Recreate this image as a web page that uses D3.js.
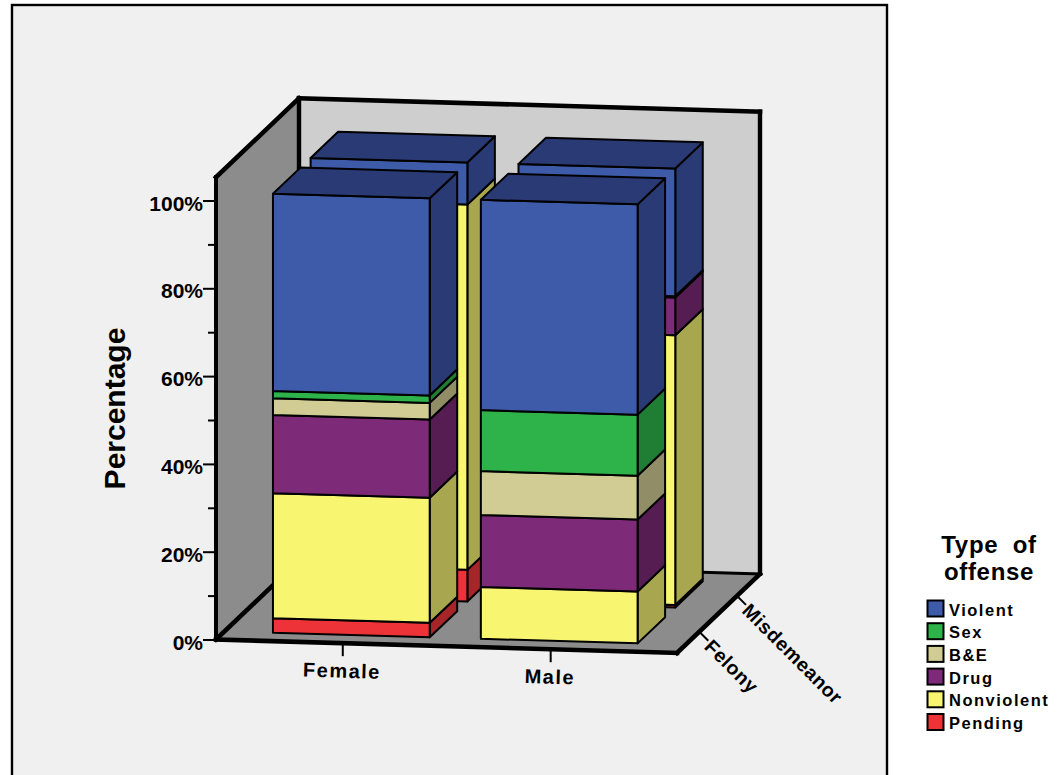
<!DOCTYPE html>
<html>
<head>
<meta charset="utf-8">
<title>Type of offense by gender and charge class</title>
<script src="https://cdnjs.cloudflare.com/ajax/libs/d3/7.8.5/d3.min.js"></script>
<style>
  html, body { margin: 0; padding: 0; background: #fff; }
  svg { display: block; }
  text { font-family: "Liberation Sans", Arial, sans-serif; font-weight: bold; fill: #000; }
</style>
</head>
<body>
<svg id="chart" width="1060" height="775"></svg>
<script>
// Categories and stacked percentages, bottom of each bar to the top
const genders = ["Female", "Male"];
const charges = ["Felony", "Misdemeanor"];
const offenses = ["Pending", "Nonviolent", "Drug", "B&E", "Sex", "Violent"];
const legendOrder = ["Violent", "Sex", "B&E", "Drug", "Nonviolent", "Pending"];

const femaleFelony      = [3.3, 28.5, 17.8, 3.8, 1.7, 44.9];
const femaleMisdemeanor = [7.2, 83.2, 0, 0, 0, 9.6];
const maleFelony        = [0, 11.8, 16.4, 10.0, 13.9, 47.9];
const maleMisdemeanor   = [0.6, 61.4, 8.6, 0.3, 0, 29.1];

const yTicksMajor = [0, 20, 40, 60, 80, 100];
const yTicksMinor = [10, 30, 50, 70, 90];

const frontColors = ["#EE3338", "#F8F570", "#7D2A78", "#D1CC94", "#2DB34A", "#3E5BAA"];
const sideColors  = ["#A62529", "#A8A64E", "#561D53", "#918E67", "#1F7D34", "#293A74"];
const offenseColor = d3.scaleOrdinal(offenses, frontColors);
const offenseSide  = d3.scaleOrdinal(offenses, sideColors);

const rows = [
  { gender: "Female", charge: "Misdemeanor", values: femaleMisdemeanor },
  { gender: "Male",   charge: "Misdemeanor", values: maleMisdemeanor },
  { gender: "Female", charge: "Felony",      values: femaleFelony },
  { gender: "Male",   charge: "Felony",      values: maleFelony }
].map(r => Object.assign({ gender: r.gender, charge: r.charge },
  Object.fromEntries(offenses.map((o, i) => [o, r.values[i]]))));

const series = d3.stack().keys(offenses)(rows);

// Oblique projection: u runs across the floor, w runs into the depth, v is the percentage
const origin = { x: 216, y: 639.5 };
const uVec = { x: 461, y: 13.4 };
const wVec = { x: 83, y: -79 };

const xBand = d3.scaleBand().domain(genders).range([0.105, 0.896]).paddingInner(0.246);
const zBand = d3.scaleBand().domain(charges).range([0.103, 0.888]).paddingInner(0.27);
const yScale = d3.scaleLinear().domain([0, 100]).range([origin.y, origin.y - 439]);
const wallTop = 105.3;

function project(u, v, w) {
  return [
    origin.x + uVec.x * u + wVec.x * w,
    yScale(v) + uVec.y * u + wVec.y * w
  ];
}
const outline = d3.line();
const poly = pts => outline(pts) + "Z";

const svg = d3.select("#chart");

// Outer panel
svg.append("rect").attr("x", 12).attr("y", 5).attr("width", 875).attr("height", 790)
  .attr("fill", "#F0F0F0").attr("stroke", "#000").attr("stroke-width", 2.4);

// Left wall, back wall and floor
const wallsG = svg.append("g");
wallsG.append("path")
  .attr("d", poly([project(0, 0, 0), project(0, wallTop, 0), project(0, wallTop, 1), project(0, 0, 1)]))
  .attr("fill", "#8C8C8C");
wallsG.append("path")
  .attr("d", poly([project(0, 0, 1), project(0, wallTop, 1), project(1, wallTop, 1), project(1, 0, 1)]))
  .attr("fill", "#CECECE");
wallsG.append("path")
  .attr("d", poly([project(0, 0, 0), project(0, 0, 1), project(1, 0, 1), project(1, 0, 0)]))
  .attr("fill", "#8C8C8C");

const heavy = (a, b, width) => wallsG.append("path")
  .attr("d", outline([a, b])).attr("fill", "none").attr("stroke", "#000")
  .attr("stroke-width", width).attr("stroke-linecap", "square");

heavy(project(0, 0, 1), project(1, 0, 1), 3);
heavy(project(0, 0, 1), project(0, wallTop, 1), 4.4);
heavy(project(0, 0, 0), project(0, 0, 1), 4.6);
heavy(project(0, wallTop, 0), project(0, wallTop, 1), 4.6);
heavy(project(0, wallTop, 1), project(1, wallTop, 1), 4.6);
heavy(project(1, wallTop, 1), project(1, 0, 1), 4.4);
heavy(project(0, 0, 0), project(0, wallTop, 0), 4);
heavy(project(0, 0, 0), project(1, 0, 0), 4.6);
heavy(project(1, 0, 0), project(1, 0, 1), 4.6);

// Percentage axis along the front edge of the left wall
const axisX = origin.x - 2;
svg.append("g").attr("transform", `translate(${axisX},0)`)
  .call(d3.axisLeft(yScale).tickValues(yTicksMinor).tickSize(6).tickFormat(""))
  .call(g => g.select(".domain").remove())
  .call(g => g.selectAll("line").attr("stroke", "#000").attr("stroke-width", 2));
svg.append("g").attr("transform", `translate(${axisX},0)`)
  .call(d3.axisLeft(yScale).tickValues(yTicksMajor).tickSize(11).tickPadding(0).tickFormat(d => d + "%"))
  .call(g => g.select(".domain").remove())
  .call(g => g.selectAll("line").attr("stroke", "#000").attr("stroke-width", 2))
  .call(g => g.selectAll("text").attr("font-size", 21).attr("dy", "0.46em")
    .attr("font-family", "Liberation Sans").attr("font-weight", "bold"));

// Stacked boxes, back row first so the front row covers it
const barsG = svg.append("g").attr("stroke", "#000").attr("stroke-width", 2).attr("stroke-linejoin", "round");
rows.forEach((row, rowIndex) => {
  const u0 = xBand(row.gender), u1 = u0 + xBand.bandwidth();
  const w0 = zBand(row.charge), w1 = w0 + zBand.bandwidth();
  const g = barsG.append("g").attr("class", `${row.gender}-${row.charge}`);
  series.forEach(s => {
    const [v0, v1] = s[rowIndex];
    if (v1 - v0 <= 0) return;
    g.append("path")
      .attr("d", poly([project(u1, v0, w0), project(u1, v1, w0), project(u1, v1, w1), project(u1, v0, w1)]))
      .attr("fill", offenseSide(s.key));
    g.append("path")
      .attr("d", poly([project(u0, v0, w0), project(u0, v1, w0), project(u1, v1, w0), project(u1, v0, w0)]))
      .attr("fill", offenseColor(s.key));
  });
  const top = d3.max(series, s => s[rowIndex][1]);
  g.append("path")
    .attr("d", poly([project(u0, top, w0), project(u0, top, w1), project(u1, top, w1), project(u1, top, w0)]))
    .attr("fill", offenseSide(offenses[offenses.length - 1]));
});

// Gender ticks and labels under the front floor edge
const labelsG = svg.append("g");
genders.forEach(g => {
  const [x, y] = project(xBand(g) + xBand.bandwidth() / 2, 0, 0);
  labelsG.append("line").attr("x1", x).attr("y1", y).attr("x2", x).attr("y2", y + 13)
    .attr("stroke", "#000").attr("stroke-width", 2);
  labelsG.append("text")
    .attr("transform", `translate(${x - 1},${y + 34.5}) rotate(1.7)`)
    .attr("text-anchor", "middle").attr("font-size", 20).attr("letter-spacing", 1.5)
    .text(g);
});

// Charge ticks and labels along the right floor edge
charges.forEach(c => {
  const [x, y] = project(1, 0, zBand(c) + zBand.bandwidth() / 2);
  labelsG.append("line").attr("x1", x).attr("y1", y).attr("x2", x + 9).attr("y2", y + 9)
    .attr("stroke", "#000").attr("stroke-width", 2);
  labelsG.append("text")
    .attr("transform", `translate(${x + 4},${y + 16}) rotate(45)`)
    .attr("font-size", 19.5).attr("letter-spacing", 0.6)
    .text(c);
});

// Vertical axis title
svg.append("text")
  .attr("transform", "translate(125,408.5) rotate(-90)")
  .attr("text-anchor", "middle").attr("font-size", 30)
  .text("Percentage");

// Legend
const legendG = svg.append("g");
["Type of", "offense"].forEach((line, i) => {
  legendG.append("text").attr("x", 989).attr("y", 553 + i * 26.5)
    .attr("text-anchor", "middle").attr("font-size", 24).attr("letter-spacing", 0.7)
    .attr("word-spacing", i === 0 ? 7 : 0)
    .text(line);
});
const legendY = d3.scalePoint().domain(legendOrder).range([609, 722.5]);
legendOrder.forEach(name => {
  const y = legendY(name);
  legendG.append("rect").attr("x", 927.5).attr("y", y - 8.5).attr("width", 16).attr("height", 16)
    .attr("fill", offenseColor(name)).attr("stroke", "#000").attr("stroke-width", 2);
  legendG.append("text").attr("x", 949).attr("y", y + 6.5)
    .attr("font-size", 16.5).attr("letter-spacing", 1.5)
    .text(name);
});
</script>
</body>
</html>
